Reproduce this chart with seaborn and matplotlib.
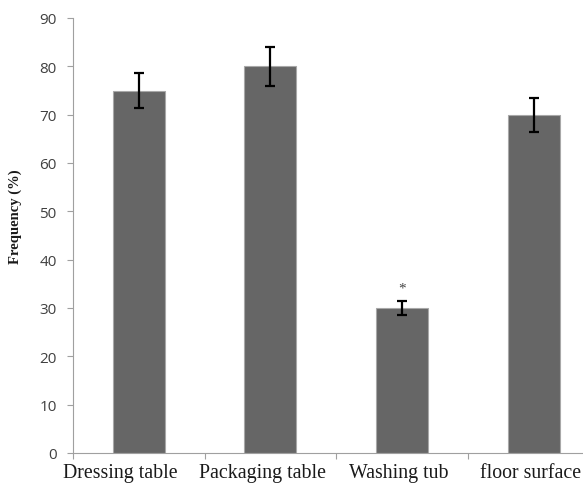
import matplotlib
matplotlib.use("Agg")
import matplotlib.pyplot as plt
import seaborn as sns
import pandas as pd

# Sampling sites and observed frequency (%) with error margins
sites = ["Dressing table", "Packaging table", "Washing tub", "floor surface"]
frequency = [75, 80, 30, 70]
error = [3.7, 4.0, 1.5, 3.5]
y_ticks = [0, 10, 20, 30, 40, 50, 60, 70, 80, 90]
marked_site = "Washing tub"
# horizontal shift of each category label so the long names do not collide
label_shift = [-0.14, -0.06, -0.03, -0.03]

df = pd.DataFrame({"site": sites, "frequency": frequency, "error": error})

sns.set_style("white")
plt.rcParams["font.family"] = ["Open Sans", "DejaVu Sans"]
serif = ["Liberation Serif", "DejaVu Serif"]

fig = plt.figure(figsize=(5.83, 4.85), dpi=100)
ax_w = (600 - 72.7) / 583
ax = fig.add_axes([72.7 / 583, 31 / 485, ax_w, (454 - 19) / 485])

sns.barplot(data=df, x="site", y="frequency", color="#666666", width=0.395,
            saturation=1, errorbar=None, edgecolor="#a8a8a8", linewidth=0.8, ax=ax)

xpos = list(range(len(sites)))
ax.errorbar(xpos, df["frequency"], yerr=df["error"], fmt="none", ecolor="black",
            elinewidth=1.6, capsize=3.3, capthick=1.6, zorder=5)

# significance marker above the washing tub bar
i = sites.index(marked_site)
ax.text(i, frequency[i] + error[i] + 2.6, "*", ha="center", va="center",
        fontsize=11, color="#444444", family=serif)

ax.set_xlim(-0.5, len(sites) - 0.5)
ax.set_ylim(0, 90)
ax.set_yticks(y_ticks)
ax.tick_params(axis="y", length=4.5, width=0.8, color="#a0a0a0", pad=7,
               labelsize=11, labelcolor="#404040", left=True)

# category labels under bars, tick marks on category boundaries
ax.set_xticks([p + s for p, s in zip(xpos, label_shift)])
ax.set_xticklabels(sites, family=serif, fontsize=14.3, color="#1a1a1a")
ax.tick_params(axis="x", which="major", length=0, pad=7)
ax.set_xticks([p - 0.5 for p in xpos] + [len(sites) - 0.5], minor=True)
ax.tick_params(axis="x", which="minor", length=4.5, width=0.8, color="#a0a0a0",
               bottom=True)

for s in ["top", "right"]:
    ax.spines[s].set_visible(False)
for s in ["left", "bottom"]:
    ax.spines[s].set_color("#a0a0a0")
    ax.spines[s].set_linewidth(0.8)

ax.set_xlabel("")
ax.set_ylabel("Frequency (%)", fontsize=10.5, fontweight="bold",
              family=serif, color="#1a1a1a")
ax.yaxis.set_label_coords((22 - 72.7) / 583 / ax_w, (454 - 217) / 435)

fig.savefig("out.png", dpi=100)
